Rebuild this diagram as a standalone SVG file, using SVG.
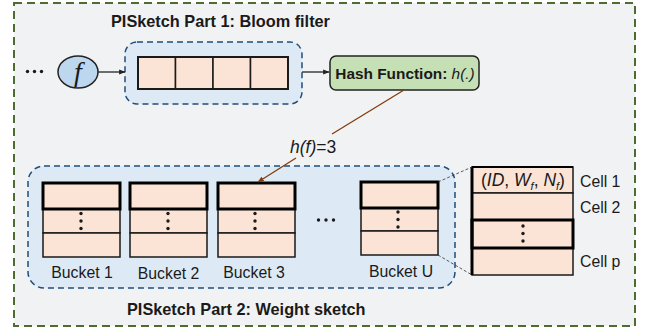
<svg xmlns="http://www.w3.org/2000/svg" width="649" height="335" viewBox="0 0 649 335">
<style>
text{font-family:"Liberation Sans",Arial,sans-serif;fill:#1a1a1a}
.b{font-weight:bold}
.h{font-size:16.3px;font-weight:bold}
.t{font-size:15.8px}
.cell{fill:#fbe3d6;stroke:#1a1a1a;stroke-width:1.5}
.thick{fill:none;stroke:#000;stroke-width:3}
.grp{fill:#ddeaf6;stroke:#1f4e79;stroke-width:1.5;stroke-dasharray:6 4}
.dot{fill:#1a1a1a}
.conn{fill:none;stroke:#222;stroke-width:1.3}
</style>
<defs>
<marker id="ah" viewBox="0 0 10 10" refX="9" refY="5" markerWidth="5" markerHeight="5" orient="auto"><path d="M0,1 L10,5 L0,9 z" fill="#222"/></marker>
<marker id="ahb" viewBox="0 0 10 10" refX="9" refY="5" markerWidth="5" markerHeight="5" orient="auto"><path d="M0,1 L10,5 L0,9 z" fill="#843c0c"/></marker>
</defs>
<rect id="outer" x="14" y="3" width="621" height="323" fill="#f1f2f4" stroke="#4e6b30" stroke-width="2" stroke-dasharray="8 5"/>
<text class="h" x="111" y="27">PISketch Part 1: Bloom filter</text>
<text class="h" x="127" y="315">PISketch Part 2: Weight sketch</text>
<g id="lead-dots" class="dot"><circle cx="27.5" cy="71.5" r="1.7"/><circle cx="34.5" cy="71.5" r="1.7"/><circle cx="41.5" cy="71.5" r="1.7"/></g>
<g id="f">
<ellipse cx="78" cy="72" rx="20" ry="16" fill="#bdd7ee" stroke="#222" stroke-width="1.5"/>
<text x="78" y="81" text-anchor="middle" font-style="italic" font-size="28" style="font-family:'Liberation Serif',serif">f</text>
</g>
<g id="bloom">
<rect class="grp" x="125" y="42" width="177" height="62" rx="12"/>
<rect class="cell" x="138" y="57" width="37.5" height="32"/>
<rect class="cell" x="175.5" y="57" width="37.5" height="32"/>
<rect class="cell" x="213" y="57" width="37.5" height="32"/>
<rect class="cell" x="250.5" y="57" width="37.5" height="32"/>
<rect x="138" y="57" width="150" height="32" fill="none" stroke="#1a1a1a" stroke-width="2"/>
</g>
<g id="hash">
<rect x="330" y="56" width="149" height="34" rx="6" fill="#c5e0b4" stroke="#222" stroke-width="1.5"/>
<text x="405" y="78.5" text-anchor="middle" font-size="15.4"><tspan class="b">Hash Function: </tspan><tspan font-style="italic">h(.)</tspan></text>
</g>
<g id="weight">
<rect class="grp" x="28" y="166" width="427" height="122" rx="16"/>
</g>
<g id="bucket1">
<rect class="cell" x="43" y="183" width="77" height="26"/><rect class="cell" x="43" y="209" width="77" height="24"/><rect class="cell" x="43" y="233" width="77" height="24"/>
<rect class="thick" x="43" y="183" width="77" height="26"/>
<g class="dot"><circle cx="81" cy="213.5" r="1.7"/><circle cx="81" cy="221" r="1.7"/><circle cx="81" cy="228.5" r="1.7"/></g>
<text class="t" x="82" y="278" text-anchor="middle">Bucket 1</text>
</g>
<g id="bucket2">
<rect class="cell" x="130" y="183" width="77" height="26"/><rect class="cell" x="130" y="209" width="77" height="24"/><rect class="cell" x="130" y="233" width="77" height="24"/>
<rect class="thick" x="130" y="183" width="77" height="26"/>
<g class="dot"><circle cx="168" cy="213.5" r="1.7"/><circle cx="168" cy="221" r="1.7"/><circle cx="168" cy="228.5" r="1.7"/></g>
<text class="t" x="168.5" y="279" text-anchor="middle">Bucket 2</text>
</g>
<g id="bucket3">
<rect class="cell" x="218" y="183" width="77" height="26"/><rect class="cell" x="218" y="209" width="77" height="24"/><rect class="cell" x="218" y="233" width="77" height="24"/>
<rect class="thick" x="218" y="183" width="77" height="26"/>
<g class="dot"><circle cx="255" cy="213.5" r="1.7"/><circle cx="255" cy="221" r="1.7"/><circle cx="255" cy="228.5" r="1.7"/></g>
<text class="t" x="254" y="278" text-anchor="middle">Bucket 3</text>
</g>
<g id="mid-dots" class="dot"><circle cx="318.5" cy="220" r="1.7"/><circle cx="326" cy="220" r="1.7"/><circle cx="333.5" cy="220" r="1.7"/></g>
<g id="bucketU">
<rect class="cell" x="361" y="182" width="77" height="26"/><rect class="cell" x="361" y="208" width="77" height="23"/><rect class="cell" x="361" y="231" width="77" height="24"/>
<rect class="thick" x="361" y="182" width="77" height="26"/>
<g class="dot"><circle cx="398" cy="212" r="1.7"/><circle cx="398" cy="219.5" r="1.7"/><circle cx="398" cy="227" r="1.7"/></g>
<text class="t" x="401" y="277" text-anchor="middle">Bucket U</text>
</g>
<g id="detail">
<rect class="cell" x="472" y="167" width="101" height="26"/><rect class="cell" x="472" y="193" width="101" height="27"/><rect class="cell" x="472" y="220" width="101" height="28"/><rect class="cell" x="472" y="248" width="101" height="27"/>
<rect class="thick" x="472" y="220" width="101" height="28"/>
<line x1="472" y1="167" x2="472" y2="275" stroke="#000" stroke-width="3"/>
<line x1="472" y1="167" x2="573" y2="167" stroke="#000" stroke-width="2"/>
<text x="481" y="186" font-size="17.5"><tspan>(</tspan><tspan font-style="italic">ID</tspan><tspan>, </tspan><tspan font-style="italic">W</tspan><tspan font-style="italic" font-size="11" dy="4">f</tspan><tspan dy="-4">, </tspan><tspan font-style="italic">N</tspan><tspan font-style="italic" font-size="11" dy="4">f</tspan><tspan dy="-4">)</tspan></text>
<g class="dot"><circle cx="523" cy="226" r="1.7"/><circle cx="523" cy="233.5" r="1.7"/><circle cx="523" cy="241" r="1.7"/></g>
<text class="t" x="580" y="187">Cell 1</text>
<text class="t" x="580" y="213">Cell 2</text>
<text class="t" x="580" y="267">Cell p</text>
</g>
<g id="connectors">
<line class="conn" x1="98" y1="72" x2="125" y2="72" marker-end="url(#ah)"/>
<line class="conn" x1="302" y1="72" x2="329" y2="72" marker-end="url(#ah)"/>
<line x1="404" y1="90" x2="332" y2="134" stroke="#843c0c" stroke-width="1.3"/>
<line x1="296" y1="158" x2="258" y2="182" stroke="#843c0c" stroke-width="1.3" marker-end="url(#ahb)"/>
<line x1="438" y1="182" x2="472" y2="167" stroke="#333" stroke-width="0.8" stroke-dasharray="3 2"/>
<line x1="438" y1="255" x2="472" y2="275" stroke="#333" stroke-width="0.8" stroke-dasharray="3 2"/>
</g>
<text x="290" y="153" font-size="17.5"><tspan font-style="italic">h(f)</tspan>=3</text>
</svg>
